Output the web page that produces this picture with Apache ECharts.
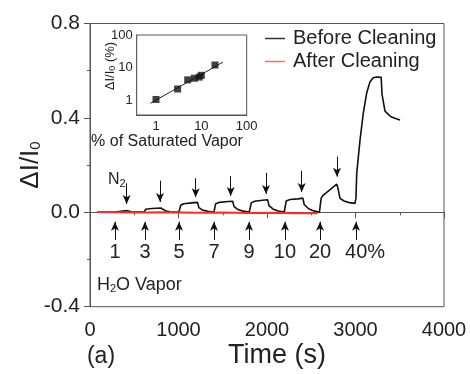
<!DOCTYPE html>
<html>
<head>
<meta charset="utf-8">
<script src="https://cdn.jsdelivr.net/npm/echarts@6/dist/echarts.min.js"></script>
<style>
  html, body { margin: 0; padding: 0; background: #fff; }
  #chart { width: 470px; height: 374px; }
</style>
</head>
<body>
<div id="chart"></div>
<script>
// Current response ΔI/I0 of the device to H2O vapor pulses (time in s)
const beforeTime = [110, 280, 290, 300, 420, 430, 470, 540, 610,
  620, 630, 700, 800, 815, 860, 910, 1005,
  1015, 1025, 1060, 1150, 1215, 1230, 1270, 1330, 1400,
  1410, 1420, 1460, 1560, 1612, 1628, 1670, 1730, 1800,
  1812, 1822, 1860, 1950, 2008, 2022, 2070, 2130, 2195,
  2207, 2217, 2260, 2350, 2405, 2420, 2470, 2530, 2592,
  2600, 2612, 2636, 2700, 2788, 2800, 2825, 2870, 2930, 2994,
  3005, 3014, 3051, 3088, 3127, 3164, 3200, 3240, 3290, 3300, 3333, 3400, 3460, 3503];
const beforeValue = [0.0, 0.001, 0.005, 0.006, 0.007, 0.004, 0.002, 0.001, 0.001,
  0.003, 0.013, 0.016, 0.018, 0.012, 0.005, 0.002, 0.001,
  0.002, 0.030, 0.036, 0.040, 0.042, 0.020, 0.010, 0.004, 0.001,
  0.002, 0.036, 0.042, 0.046, 0.047, 0.024, 0.012, 0.005, 0.001,
  0.002, 0.040, 0.047, 0.051, 0.053, 0.028, 0.013, 0.005, 0.001,
  0.002, 0.048, 0.054, 0.057, 0.060, 0.033, 0.015, 0.006, 0.000,
  0.002, 0.060, 0.073, 0.092, 0.119, 0.105, 0.059, 0.048, 0.041, 0.038,
  0.060, 0.166, 0.306, 0.420, 0.507, 0.553, 0.570, 0.573, 0.572, 0.500, 0.429, 0.405, 0.396, 0.391];
const afterTime = [80, 300, 600, 900, 1200, 1500, 1800, 2100, 2300, 2450, 2570];
const afterValue = [0.001, 0.000, -0.001, 0.000, -0.002, -0.001, -0.003, -0.002, -0.004, -0.003, -0.004];

// Vapor pulses: concentration labels, switch-on and switch-off times
const pulseLabels = ['1', '3', '5', '7', '9', '10', '20', '40%'];
const pulseOnTimes = [282, 621, 1006, 1401, 1797, 2203, 2599, 3006];
const pulseOffTimes = [414, 791, 1194, 1590, 1989, 2392, 2791];
const offArrowTop = [0.123, 0.134, 0.145, 0.154, 0.167, 0.176, 0.236];
const offArrowTip = [0.035, 0.044, 0.064, 0.069, 0.078, 0.086, 0.151];

// Inset: response (%) against vapor concentration (% of saturated vapor)
const insetConc = [1, 3, 5, 7, 9, 10, 20];
const insetResponse = [1.05, 2.2, 4.2, 4.7, 5.1, 5.8, 12.0];
const fitConc = [0.75, 30];
const fitResponse = [0.8, 14.7];

// Axis ticks
const xTickValues = [0, 1000, 2000, 3000, 4000];
const yTickValues = [-0.4, 0.0, 0.4, 0.8];

const FONT = '"Liberation Sans", Arial, sans-serif';
const INK = '#222';
const AXIS = '#555';
const BLACK = '#111';
const RED = '#ff2a2a';

const onArrowBase = -0.117, onArrowTip = -0.040, pulseLabelY = -0.172;

const chart = echarts.init(document.getElementById('chart'), null, { renderer: 'canvas' });

const option = {
  animation: false,
  backgroundColor: '#fff',
  textStyle: { fontFamily: FONT, color: INK },
  grid: [
    { left: 90, top: 23.5, right: 26, bottom: 67.3, show: true, borderColor: AXIS, borderWidth: 1 },
    { left: 136.7, top: 35, width: 110, height: 80, show: true, borderColor: AXIS, borderWidth: 1, backgroundColor: '#fff', z: 5 }
  ],
  legend: {
    orient: 'vertical', left: 265, top: 27, padding: 0,
    icon: 'rect', itemWidth: 20, itemHeight: 1.5, itemGap: 0,
    textStyle: { fontFamily: FONT, fontSize: 20, color: INK, lineHeight: 23, padding: [0, 0, 0, 3] },
    data: [
      { name: 'Before Cleaning', itemStyle: { color: '#333' } },
      { name: 'After Cleaning', itemStyle: { color: '#ff6a6a' } }
    ]
  },
  xAxis: [
    {
      gridIndex: 0, type: 'value',
      min: xTickValues[0], max: xTickValues[xTickValues.length - 1], interval: 1000,
      axisLine: { lineStyle: { color: AXIS } },
      axisTick: { inside: false, length: 6, lineStyle: { color: AXIS } },
      minorTick: { show: true, splitNumber: 2, length: 3, lineStyle: { color: AXIS } },
      splitLine: { show: false },
      axisLabel: { fontSize: 20, color: INK, margin: 14, fontFamily: FONT, formatter: v => String(v) }
    },
    {
      gridIndex: 1, type: 'log', logBase: 10, min: 0.375, max: 100,
      axisLine: { lineStyle: { color: AXIS } },
      axisTick: { inside: true, length: 3, lineStyle: { color: AXIS } },
      splitLine: { show: false },
      axisLabel: { fontSize: 13, color: INK, margin: 5, showMinLabel: false, fontFamily: FONT,
        formatter: v => String(Math.round(v)) }
    }
  ],
  yAxis: [
    {
      gridIndex: 0, type: 'value',
      min: yTickValues[0], max: yTickValues[yTickValues.length - 1], interval: 0.4,
      axisLine: { lineStyle: { color: AXIS } },
      axisTick: { inside: false, length: 6, lineStyle: { color: AXIS } },
      minorTick: { show: true, splitNumber: 2, length: 3, lineStyle: { color: AXIS } },
      splitLine: { show: false },
      axisLabel: { fontSize: 21, color: INK, margin: 10, fontFamily: FONT, formatter: v => v.toFixed(1) }
    },
    {
      gridIndex: 1, type: 'log', logBase: 10, min: 0.35, max: 100,
      axisLine: { lineStyle: { color: AXIS } },
      axisTick: { inside: true, length: 3, lineStyle: { color: AXIS } },
      splitLine: { show: false },
      axisLabel: { fontSize: 13, color: INK, margin: 4, showMinLabel: false, fontFamily: FONT,
        formatter: v => String(Math.round(v)) }
    }
  ],
  series: [
    {
      name: 'Before Cleaning', type: 'line', xAxisIndex: 0, yAxisIndex: 0,
      symbol: 'none', color: BLACK,
      lineStyle: { color: BLACK, width: 1.6 },
      data: beforeTime.map((t, i) => [t, beforeValue[i]]),
      markLine: {
        silent: true, animation: false,
        symbol: ['none', 'arrow'], symbolSize: [6, 9],
        lineStyle: { color: BLACK, width: 1, type: 'solid' },
        label: { show: false },
        emphasis: { disabled: true },
        data: pulseOnTimes.map(t => [{ coord: [t, onArrowBase] }, { coord: [t, onArrowTip] }])
          .concat(pulseOffTimes.map((t, i) => [{ coord: [t, offArrowTop[i]] }, { coord: [t, offArrowTip[i]] }]))
      },
      markPoint: {
        silent: true, animation: false,
        symbol: 'circle', symbolSize: 1, itemStyle: { color: 'rgba(0,0,0,0)' },
        label: { show: true, position: 'inside', color: INK, fontSize: 20, fontFamily: FONT,
          formatter: p => p.name },
        data: pulseLabels.map((s, i) => ({
          name: s, coord: [pulseOnTimes[i], pulseLabelY],
          label: s === '40%' ? { offset: [9, 0] } : {}
        }))
      }
    },
    {
      name: 'After Cleaning', type: 'line', xAxisIndex: 0, yAxisIndex: 0,
      symbol: 'none', color: RED,
      lineStyle: { color: RED, width: 2 },
      data: afterTime.map((t, i) => [t, afterValue[i]])
    },
    {
      name: 'fit', type: 'line', xAxisIndex: 1, yAxisIndex: 1, z: 6,
      symbol: 'none', lineStyle: { color: '#222', width: 1 },
      data: fitConc.map((c, i) => [c, fitResponse[i]])
    },
    {
      name: 'inset', type: 'scatter', xAxisIndex: 1, yAxisIndex: 1, z: 7,
      symbol: 'rect', symbolSize: 7, itemStyle: { color: BLACK },
      data: insetConc.map((c, i) => [c, insetResponse[i]])
    }
  ],
  graphic: [
    { type: 'text', x: 31, y: 165, rotation: Math.PI / 2, z: 10,
      style: { text: 'ΔI/I{s|0}', fill: INK, font: '26px ' + FONT, align: 'center', verticalAlign: 'middle',
        rich: { s: { fontSize: 15, fontFamily: FONT, fill: INK, padding: [10, 0, 0, 0] } } } },
    { type: 'text', x: 277, y: 356, z: 10,
      style: { text: 'Time (s)', fill: INK, font: '27px ' + FONT, align: 'center', verticalAlign: 'middle' } },
    { type: 'text', x: 101, y: 357, z: 10,
      style: { text: '(a)', fill: INK, font: '23px ' + FONT, align: 'center', verticalAlign: 'middle' } },
    { type: 'text', x: 108, y: 180, z: 10,
      style: { text: 'N{s|2}', fill: INK, font: '16px ' + FONT, align: 'left', verticalAlign: 'middle',
        rich: { s: { fontSize: 11, fontFamily: FONT, fill: INK, padding: [8, 0, 0, 0] } } } },
    { type: 'text', x: 97, y: 285, z: 10,
      style: { text: 'H{s|2}O Vapor', fill: INK, font: '18px ' + FONT, align: 'left', verticalAlign: 'middle',
        rich: { s: { fontSize: 11, fontFamily: FONT, fill: INK, padding: [8, 0, 0, 0] } } } },
    { type: 'text', x: 110, y: 66, rotation: Math.PI / 2, z: 10,
      style: { text: 'ΔI/I{s|0} (%)', fill: INK, font: '13px ' + FONT, align: 'center', verticalAlign: 'middle',
        rich: { s: { fontSize: 9, fontFamily: FONT, fill: INK, padding: [6, 0, 0, 0] } } } },
    { type: 'text', x: 167, y: 142, z: 10,
      style: { text: '% of Saturated Vapor', fill: INK, font: '16px ' + FONT, align: 'center', verticalAlign: 'middle' } }
  ]
};

chart.setOption(option);
</script>
</body>
</html>
